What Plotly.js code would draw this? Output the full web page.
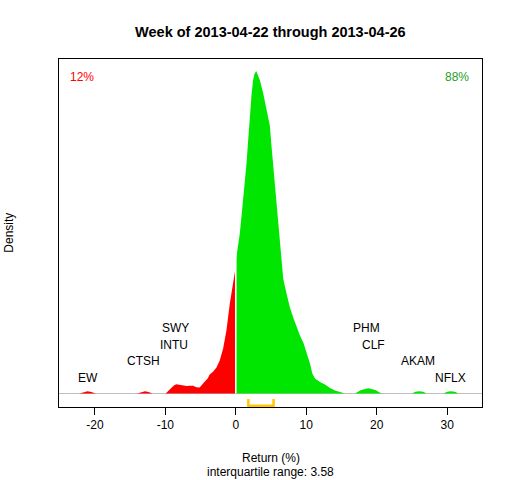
<!DOCTYPE html>
<html>
<head>
<meta charset="utf-8">
<script src="https://cdn.plot.ly/plotly-3.0.1.min.js"></script>
<style>html,body{margin:0;padding:0;background:#fff;}#chart{width:512px;height:480px;}</style>
</head>
<body>
<div id="chart"></div>
<script>
// Density of weekly returns, negative side (red)
const negX = [-22.2,-21.6,-21.05,-20.5,-19.9,-14.0,-13.4,-12.9,-12.4,-11.8,-9.96,-9.5,-9.15,-8.8,-8.44,-8.0,-7.5,-7.0,-6.5,-6.07,-5.6,-5.12,-4.65,-4.41,-4.0,-3.7,-3.2,-2.75,-2.28,-1.8,-1.33,-0.85,-0.38,-0.09,0];
const negD = [0,0.0006,0.0009,0.0006,0,0,0.0006,0.0009,0.0006,0,0,0.0012,0.0024,0.0032,0.0037,0.0034,0.0032,0.0030,0.0031,0.0031,0.0025,0.0024,0.0040,0.0046,0.0060,0.0076,0.0088,0.0104,0.0132,0.0180,0.0252,0.0360,0.0452,0.0492,0.0504];
// Density of weekly returns, positive side (green)
const posX = [0,0.33,0.57,0.81,1.04,1.28,1.52,1.75,1.99,2.23,2.46,2.65,2.9,3.17,3.41,3.88,4.36,4.84,5.07,5.31,5.55,5.79,6.02,6.26,6.5,6.73,7.2,7.68,8.15,8.63,9.1,9.58,10.06,10.53,10.86,11.24,11.95,12.66,13.37,14.08,15.03,15.5,16.9,17.8,18.8,19.8,20.7,25.0,25.5,26.0,26.6,27.1,29.5,30.0,30.5,31.1,31.6];
const posD = [0.0528,0.0592,0.0640,0.0708,0.0772,0.0840,0.0920,0.1010,0.1120,0.1192,0.1252,0.1276,0.1288,0.1272,0.1252,0.1200,0.1132,0.1068,0.0988,0.0908,0.0840,0.0760,0.0680,0.0600,0.0532,0.0460,0.0400,0.0344,0.0304,0.0264,0.0232,0.0204,0.0164,0.0120,0.0080,0.0060,0.0046,0.0036,0.0022,0.0012,0.0004,0,0,0.0014,0.0021,0.0014,0,0,0.0007,0.0009,0.0007,0,0,0.0007,0.0009,0.0007,0];
// Outlier tickers and their returns
const tickers = ["EW","CTSH","INTU","SWY","PHM","CLF","AKAM","NFLX"];
const tickerRet = [-21.05,-13.1,-8.73,-8.5,18.6,19.55,25.9,30.5];
const tickerLevel = [0,1,2,3,3,2,1,0];
// Quartiles
const q1 = 1.78, q3 = 5.36, iqr = 3.58;
const pctNeg = "12%", pctPos = "88%";
const xTicks = [-20,-10,0,10,20,30];
const title = "Week of 2013-04-22 through 2013-04-26";

const FONT = "Liberation Sans, Arial, sans-serif";
const unit = 0.0004; // density per pixel
const traces = [
  {x: negX, y: negD, type:'scatter', mode:'lines', fill:'tozeroy', fillcolor:'#ff0000', line:{width:0, color:'#ff0000'}, hoverinfo:'skip'},
  {x: posX, y: posD, type:'scatter', mode:'lines', fill:'tozeroy', fillcolor:'#00e600', line:{width:0, color:'#00e600'}, hoverinfo:'skip'},
  {x: [0,0], y: [0, posD[0]+0.004], type:'scatter', mode:'lines', line:{width:1.5, color:'#ffffff'}, hoverinfo:'skip'},
  {x: [q1,q1,q3,q3], y: [-5.4*unit,-12.2*unit,-12.2*unit,-5.4*unit], type:'scatter', mode:'lines', line:{width:2.5, color:'#ffc800'}, cliponaxis:false, hoverinfo:'skip'}
];
const ann = [];
tickers.forEach((t,i)=>{
  ann.push({x: tickerRet[i], y: (15.6 + 16.6*tickerLevel[i])*unit, xref:'x', yref:'y', text:t, showarrow:false, font:{family:FONT, size:12, color:'#000'}, xanchor:'center', yanchor:'middle'});
});
ann.push({x:0.0206, y:0.947, xref:'paper', yref:'paper', text:pctNeg, showarrow:false, xanchor:'left', yanchor:'middle', font:{family:FONT, size:12, color:'#ff0000'}});
ann.push({x:0.9747, y:0.947, xref:'paper', yref:'paper', text:pctPos, showarrow:false, xanchor:'right', yanchor:'middle', font:{family:FONT, size:12, color:'#1fa01f'}});
ann.push({x:0.5, y:-0.1468, xref:'paper', yref:'paper', text:"Return (%)", showarrow:false, xanchor:'center', yanchor:'middle', font:{family:FONT, size:12, color:'#000'}});
ann.push({x:0.5, y:-0.1871, xref:'paper', yref:'paper', text:"interquartile range: " + iqr.toFixed(2), showarrow:false, xanchor:'center', yanchor:'middle', font:{family:FONT, size:12, color:'#000'}});
ann.push({x:-0.119, y:0.5, xref:'paper', yref:'paper', text:"Density", textangle:-90, showarrow:false, xanchor:'center', yanchor:'middle', font:{family:FONT, size:12, color:'#000'}});

const layout = {
  width:512, height:480,
  margin:{l:59, r:30, t:59, b:73, pad:0},
  paper_bgcolor:'#fff', plot_bgcolor:'#fff',
  showlegend:false,
  title:{text:title, font:{family:FONT, size:14.5, color:'#000', weight:'bold'}, x:0.528, xanchor:'center', y:1-31.7/480, yanchor:'middle', yref:'container'},
  xaxis:{range:[-25.1,34.95], tickvals:xTicks, ticktext:xTicks.map(String), ticks:'outside', ticklen:7, tickcolor:'#000', tickwidth:1, showline:true, linecolor:'#000', linewidth:1, mirror:true, showgrid:false, zeroline:false, tickfont:{family:FONT, size:12, color:'#000'}},
  yaxis:{range:[-13.4*unit, 334*unit], showticklabels:false, ticks:'', showline:true, linecolor:'#000', linewidth:1, mirror:true, showgrid:false, zeroline:true, zerolinecolor:'#bebebe', zerolinewidth:1},
  annotations: ann
};
Plotly.newPlot('chart', traces, layout, {staticPlot:true, displayModeBar:false});
</script>
</body>
</html>
